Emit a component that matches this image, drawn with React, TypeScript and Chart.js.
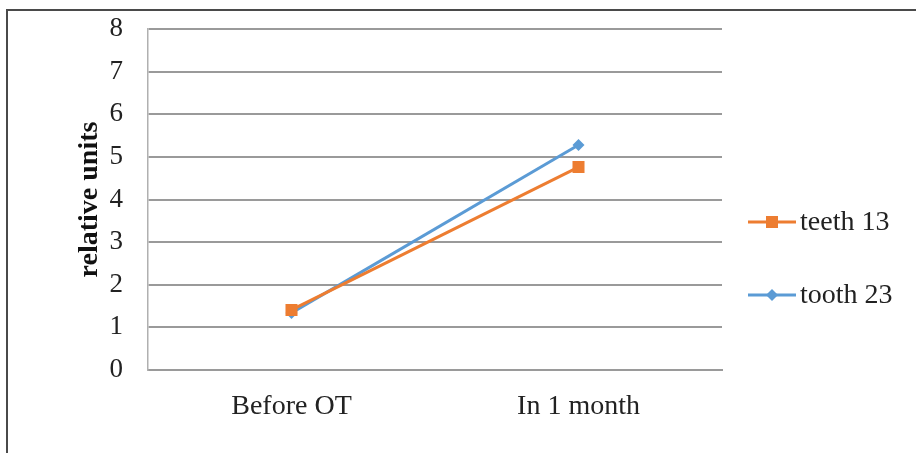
import React, { useEffect, useRef } from "react";
import { Chart, registerables } from "chart.js";

Chart.register(...registerables);

const categories = ["Before OT", "In 1 month"];
const teeth13 = [1.41, 4.76];
const tooth23 = [1.34, 5.28];
const yTicks = [0, 1, 2, 3, 4, 5, 6, 7, 8];
const seriesNames = ["teeth 13", "tooth 23"];

const ORANGE = "#ED7D31";
const BLUE = "#5B9BD5";
const FONT = "'Liberation Serif', 'Times New Roman', serif";

const legendPlugin = {
  id: "customLegend",
  afterDraw(chart: any) {
    const ctx = chart.ctx;
    const items = [
      { label: seriesNames[0], color: ORANGE, style: "rect", y: 222 },
      { label: seriesNames[1], color: BLUE, style: "diamond", y: 295 },
    ];
    ctx.save();
    items.forEach((it) => {
      const x0 = chart.chartArea.right + 26;
      const x1 = x0 + 48;
      const cx = (x0 + x1) / 2;
      ctx.strokeStyle = it.color;
      ctx.lineWidth = 3;
      ctx.beginPath();
      ctx.moveTo(x0, it.y);
      ctx.lineTo(x1, it.y);
      ctx.stroke();
      ctx.fillStyle = it.color;
      if (it.style === "rect") {
        ctx.fillRect(cx - 6, it.y - 6, 12, 12);
      } else {
        ctx.beginPath();
        ctx.moveTo(cx, it.y - 6);
        ctx.lineTo(cx + 6, it.y);
        ctx.lineTo(cx, it.y + 6);
        ctx.lineTo(cx - 6, it.y);
        ctx.closePath();
        ctx.fill();
      }
      ctx.fillStyle = "#222";
      ctx.font = `28px ${FONT}`;
      ctx.textBaseline = "middle";
      ctx.textAlign = "left";
      ctx.fillText(it.label, x1 + 4, it.y + 1);
    });
    ctx.restore();
  },
};

export default function App() {
  const ref = useRef<HTMLCanvasElement>(null);
  useEffect(() => {
    if (!ref.current) return;
    const chart = new Chart(ref.current, {
      type: "line",
      data: {
        labels: categories,
        datasets: [
          {
            label: seriesNames[0],
            data: teeth13,
            borderColor: ORANGE,
            backgroundColor: ORANGE,
            borderWidth: 3,
            pointStyle: "rect",
            pointRadius: 8.5,
            pointBorderWidth: 0,
            pointHoverRadius: 8.5,
          },
          {
            label: seriesNames[1],
            data: tooth23,
            borderColor: BLUE,
            backgroundColor: BLUE,
            borderWidth: 3,
            pointStyle: "rectRot",
            pointRadius: 6,
            pointBorderWidth: 0,
            pointHoverRadius: 6,
          },
        ],
      },
      options: {
        animation: false,
        responsive: false,
        devicePixelRatio: 1,
        layout: { padding: { top: 29, right: 194, left: 0, bottom: 0 } },
        plugins: { legend: { display: false }, tooltip: { enabled: false } },
        scales: {
          x: {
            offset: true,
            grid: { display: false },
            border: { display: true, color: "#9a9a9a", width: 2 },
            ticks: {
              color: "#222",
              font: { family: FONT, size: 28 },
              padding: 12,
            },
            afterFit(scale: any) {
              scale.height = 83;
              scale.paddingLeft = 0;
              scale.paddingRight = 0;
            },
          },
          y: {
            min: 0,
            max: 8,
            afterBuildTicks(scale: any) {
              scale.ticks = yTicks.map((v) => ({ value: v }));
            },
            grid: { color: "#9a9a9a", lineWidth: 2, drawTicks: false },
            border: { display: true, color: "#b0b0b0", width: 1.5 },
            ticks: {
              color: "#222",
              font: { family: FONT, size: 27 },
              padding: 25,
            },
            title: {
              display: true,
              text: "relative units",
              color: "#111",
              font: { family: FONT, size: 28, weight: "bold" },
              padding: { top: 73, bottom: 0 },
            },
            afterFit(scale: any) {
              scale.width = 148;
              scale.paddingTop = 0;
              scale.paddingBottom = 0;
            },
          },
        },
      },
      plugins: [legendPlugin],
    });
    return () => chart.destroy();
  }, []);

  return (
    <div
      style={{
        position: "fixed",
        left: 0,
        top: 0,
        width: 916,
        height: 453,
        overflow: "hidden",
        background: "#fff",
      }}
    >
      <div
        style={{
          position: "absolute",
          left: 6,
          top: 9,
          width: 1200,
          height: 1200,
          border: "2px solid #4a4a4a",
          boxSizing: "border-box",
        }}
      />
      <canvas
        ref={ref}
        width={916}
        height={453}
        style={{ position: "absolute", left: 0, top: 0, width: 916, height: 453 }}
      />
    </div>
  );
}
